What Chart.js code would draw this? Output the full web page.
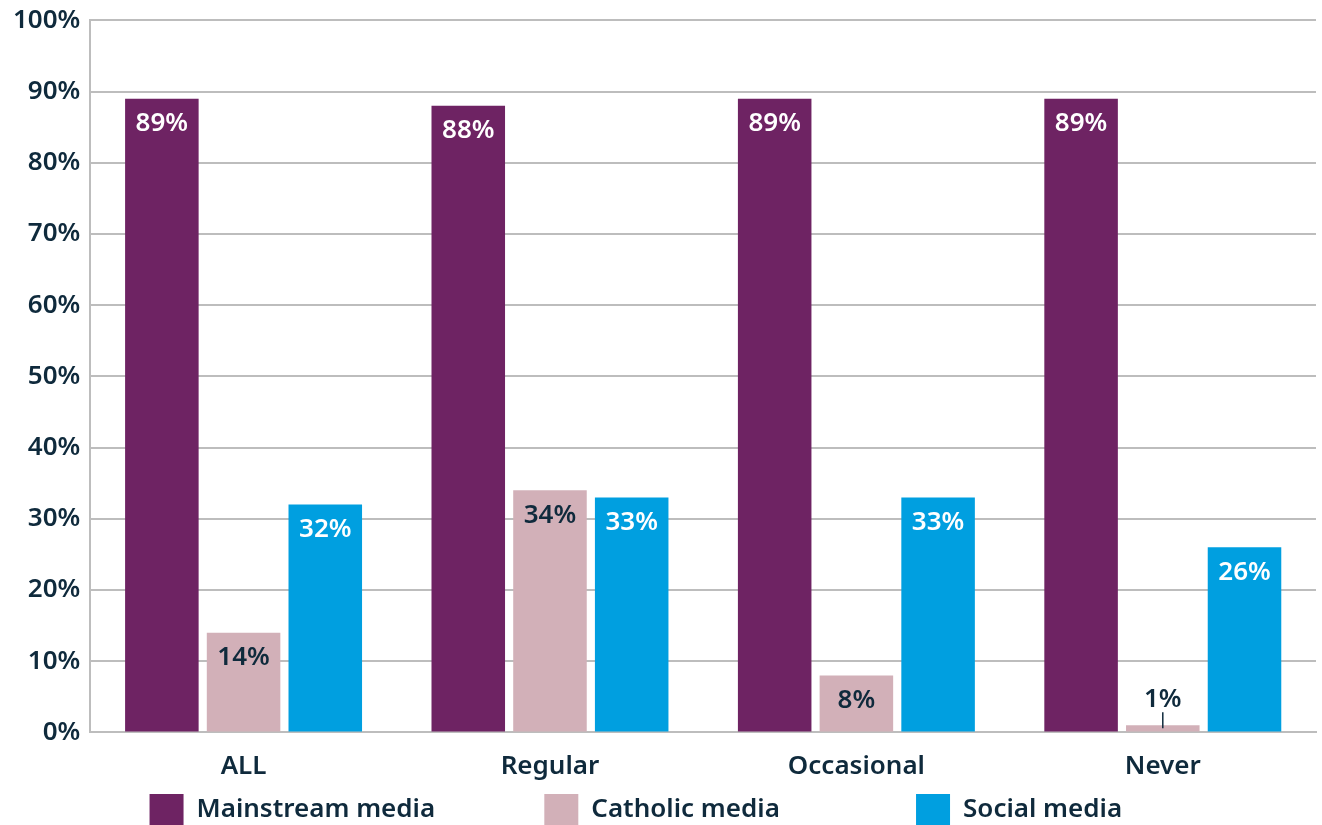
<!DOCTYPE html>
<html>
<head>
<meta charset="utf-8">
<script src="https://cdn.jsdelivr.net/npm/chart.js@4"></script>
<style>
  html, body { margin: 0; padding: 0; background: #fff; }
  #wrap { width: 1322px; height: 825px; }
</style>
</head>
<body>
<div id="wrap"><canvas id="chart"></canvas></div>
<script>
const categories = ['ALL', 'Regular', 'Occasional', 'Never'];
const mainstream = [89, 88, 89, 89];
const catholic = [14, 34, 8, 1];
const social = [32, 33, 33, 26];
const yTicks = [0, 10, 20, 30, 40, 50, 60, 70, 80, 90, 100];

const textDark = '#0f2a3c';
const fontFamily = '"Noto Sans", "DejaVu Sans", sans-serif';
const fontWeight = '600';
const sp = function (n) { return ' '.repeat(n); };

// value labels inside the top of each bar, or above with a little tick when the bar is too short
const valueLabels = {
    id: 'valueLabels',
    afterDatasetsDraw(chart) {
        const ctx = chart.ctx;
        ctx.save();
        ctx.font = fontWeight + ' 26px ' + fontFamily;
        ctx.textAlign = 'center';
        ctx.textBaseline = 'middle';
        chart.data.datasets.forEach(function (ds, i) {
            const meta = chart.getDatasetMeta(i);
            meta.data.forEach(function (bar, j) {
                const v = ds.data[j];
                const h = bar.base - bar.y;
                if (h < 30) {
                    ctx.fillStyle = textDark;
                    ctx.fillText(v + '%', bar.x, bar.y - 26);
                    ctx.strokeStyle = textDark;
                    ctx.lineWidth = 1.5;
                    ctx.beginPath();
                    ctx.moveTo(bar.x, bar.y - 13);
                    ctx.lineTo(bar.x, bar.y + 3);
                    ctx.stroke();
                } else {
                    ctx.fillStyle = ds.labelColor;
                    ctx.fillText(v + '%', bar.x, bar.y + 25);
                }
            });
        });
        ctx.restore();
    }
};

new Chart(document.getElementById('chart'), {
    type: 'bar',
    data: {
        labels: categories,
        datasets: [
            {label: 'Mainstream media', legendText: 'Mainstream media' + sp(16), data: mainstream, backgroundColor: '#6e2363', labelColor: '#ffffff'},
            {label: 'Catholic media', legendText: 'Catholic media' + sp(20), data: catholic, backgroundColor: '#d2b0b8', labelColor: textDark},
            {label: 'Social media', legendText: 'Social media' + sp(7), data: social, backgroundColor: '#009fe0', labelColor: '#ffffff'}
        ]
    },
    options: {
        responsive: true,
        maintainAspectRatio: false,
        animation: false,
        categoryPercentage: 0.8,
        barPercentage: 0.9,
        layout: {padding: {top: 4, right: 6, left: 3, bottom: -11}},
        plugins: {
            legend: {
                position: 'bottom',
                labels: {
                    boxWidth: 34,
                    boxHeight: 32,
                    padding: 1,
                    color: textDark,
                    font: {family: fontFamily, size: 26, weight: fontWeight},
                    generateLabels: function (chart) {
                        return chart.data.datasets.map(function (ds, i) {
                            return {
                                text: ds.legendText,
                                fillStyle: ds.backgroundColor,
                                strokeStyle: ds.backgroundColor,
                                lineWidth: 0,
                                fontColor: textDark,
                                datasetIndex: i
                            };
                        });
                    }
                }
            },
            tooltip: {enabled: false}
        },
        scales: {
            x: {
                grid: {display: false},
                border: {color: '#bdbdbd', width: 2},
                ticks: {color: textDark, padding: 12, font: {family: fontFamily, size: 26, weight: fontWeight, lineHeight: 1.1}}
            },
            y: {
                min: 0,
                max: 100,
                afterBuildTicks: function (axis) {
                    axis.ticks = yTicks.map(function (v) { return {value: v}; });
                },
                grid: {color: '#bdbdbd', lineWidth: 2, drawTicks: false},
                border: {color: '#bdbdbd', width: 2},
                ticks: {
                    color: textDark,
                    padding: 10,
                    font: {family: fontFamily, size: 26, weight: fontWeight, lineHeight: 0.8},
                    callback: function (v) { return v + '%'; }
                }
            }
        }
    },
    plugins: [valueLabels]
});
</script>
</body>
</html>
